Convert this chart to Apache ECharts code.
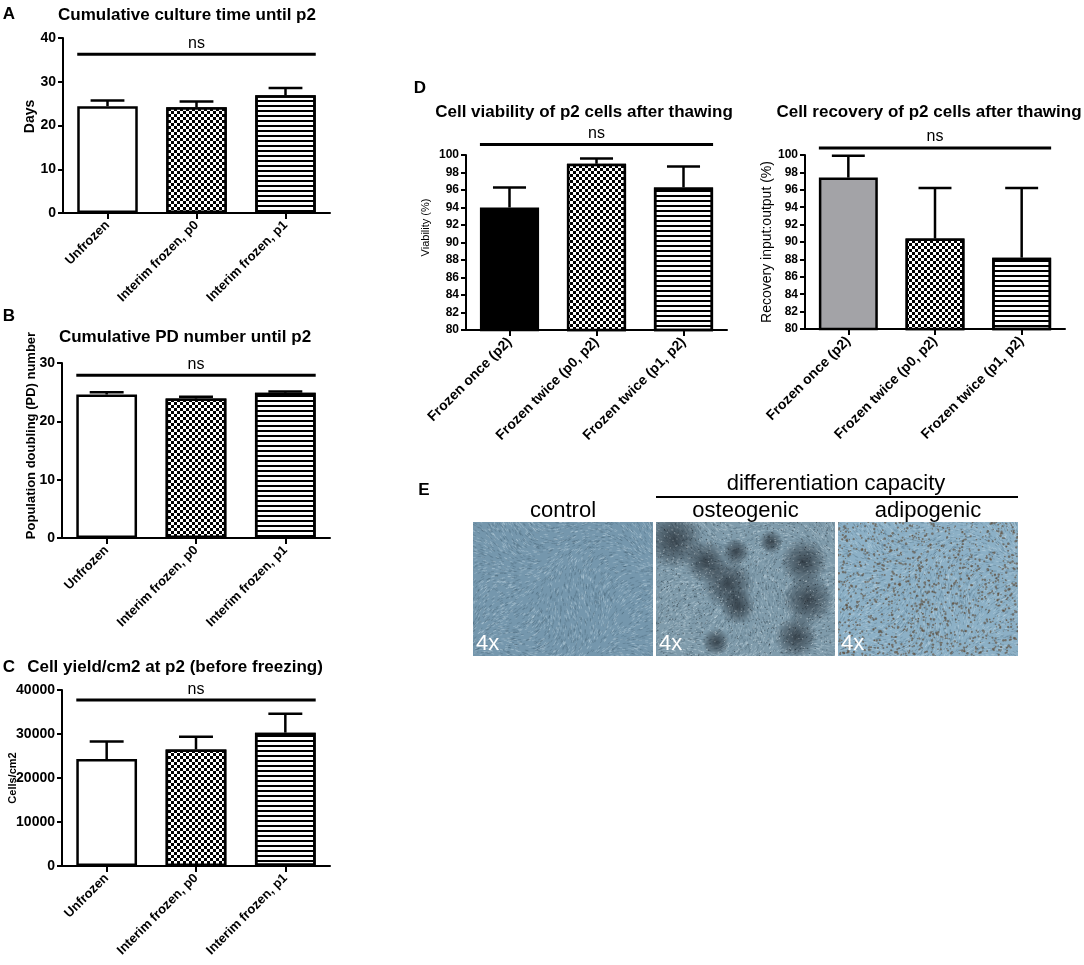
<!DOCTYPE html>
<html>
<head>
<meta charset="utf-8">
<title>Culture time, PD number, cell yield, viability and recovery</title>
<script src="https://cdn.jsdelivr.net/npm/echarts@6/dist/echarts.min.js"></script>
<style>
  html, body { margin: 0; padding: 0; background: #fff; }
  #chart { width: 1084px; height: 965px; }
</style>
</head>
<body>
<div id="chart"></div>
<script>
const FONT = '"Liberation Sans", Arial, Helvetica, sans-serif'

// categories
const catsInterim = ['Unfrozen', 'Interim frozen, p0', 'Interim frozen, p1']
const catsThaw = ['Frozen once (p2)', 'Frozen twice (p0, p2)', 'Frozen twice (p1, p2)']

// A: cumulative culture time until p2 (days), mean + SEM
const cultureDays = [24.4, 24.2, 26.9]
const cultureDaysSem = [1.3, 1.3, 1.7]
// B: cumulative PD number until p2
const pdNumber = [24.6, 23.9, 24.9]
const pdNumberSem = [0.4, 0.3, 0.2]
// C: cell yield / cm2 at p2
const cellYield = [24300, 26500, 30300]
const cellYieldSem = [4000, 2900, 4300]
// D: viability and recovery after thawing (%)
const viability = [94.0, 99.0, 96.3]
const viabilitySem = [2.3, 0.6, 2.4]
const recovery = [97.4, 90.4, 88.2]
const recoverySem = [2.5, 5.8, 8.0]

// height of the "ns" line in A, B, C, D viability, D recovery
const nsLevel = [36.3, 27.9, 37700, 101.2, 100.8]

// E: micrograph labels
const photoLabels = ['control', 'osteogenic', 'adipogenic']

// bar fills
const fillWhite = { color: '#fff' }
const fillBlack = { color: '#000' }
const fillGray = { color: '#a3a3a7' }
const fillChecker = {
  color: '#000',
  decal: { symbol: 'rect', symbolSize: 1, symbolKeepAspect: false, color: '#fff',
    dashArrayX: [[3, 3], [0, 3, 3, 0]], dashArrayY: [3, 0] }
}
const fillStripes = {
  color: '#fff',
  decal: { symbol: 'rect', symbolSize: 1, symbolKeepAspect: false, color: '#000',
    dashArrayX: [8, 0], dashArrayY: [1.5, 2.5] }
}

const panels = [
  { cats: catsInterim, mean: cultureDays, sem: cultureDaysSem, fills: [fillWhite, fillChecker, fillStripes],
    grid: { left: 63, top: 38, width: 267, height: 175 }, min: 0, max: 40, interval: 10,
    name: 'Days', nameSize: 14, nameWeight: 'bold', nameGap: 26, nameShift: 18, tickSize: 14, catSize: 13 },
  { cats: catsInterim, mean: pdNumber, sem: pdNumberSem, fills: [fillWhite, fillChecker, fillStripes],
    grid: { left: 62, top: 363, width: 268, height: 175 }, min: 0, max: 30, interval: 10,
    name: 'Population doubling (PD) number', nameSize: 13, nameWeight: 'bold', nameGap: 24, nameShift: 30, tickSize: 14, catSize: 13 },
  { cats: catsInterim, mean: cellYield, sem: cellYieldSem, fills: [fillWhite, fillChecker, fillStripes],
    grid: { left: 62, top: 690, width: 268, height: 176 }, min: 0, max: 40000, interval: 10000,
    name: 'Cells/cm2', nameSize: 11, nameWeight: 'bold', nameGap: 44, nameShift: 0, tickSize: 14, catSize: 13 },
  { cats: catsThaw, mean: viability, sem: viabilitySem, fills: [fillBlack, fillChecker, fillStripes],
    grid: { left: 466, top: 155, width: 261, height: 175 }, min: 80, max: 100, interval: 2,
    name: 'Viability (%)', nameSize: 11, nameWeight: 'normal', nameGap: 35, nameShift: 30, tickSize: 12, catSize: 14 },
  { cats: catsThaw, mean: recovery, sem: recoverySem, fills: [fillGray, fillChecker, fillStripes],
    grid: { left: 805, top: 155, width: 260, height: 174 }, min: 80, max: 100, interval: 2,
    name: 'Recovery input:output (%)', nameSize: 14, nameWeight: 'normal', nameGap: 31, nameShift: 0, tickSize: 12, catSize: 14 }
]

const txt = (size, weight) => ({ color: '#000', fontFamily: FONT, fontSize: size, fontWeight: weight })

const grids = [], xAxes = [], yAxes = [], series = []
panels.forEach((p, i) => {
  grids.push(Object.assign({ containLabel: false }, p.grid))
  xAxes.push({
    type: 'category', gridIndex: i, data: p.cats,
    axisLine: { show: true, lineStyle: { color: '#000', width: 2 } },
    axisTick: { show: true, alignWithLabel: true, length: 6, lineStyle: { color: '#000', width: 2 } },
    axisLabel: Object.assign(txt(p.catSize, 'bold'), { rotate: 45, interval: 0, margin: 10 }),
    splitLine: { show: false }
  })
  yAxes.push({
    type: 'value', gridIndex: i, min: p.min, max: p.max, interval: p.interval,
    name: p.name, nameLocation: 'middle', nameGap: p.nameGap, nameMoveOverlap: false,
    nameTextStyle: Object.assign(txt(p.nameSize, p.nameWeight), { padding: [0, 0, 0, p.nameShift] }),
    axisLine: { show: true, lineStyle: { color: '#000', width: 2 } },
    axisTick: { show: true, length: 5, lineStyle: { color: '#000', width: 2 } },
    axisLabel: Object.assign(txt(p.tickSize, 'bold'), { margin: 7, formatter: v => String(v) }),
    splitLine: { show: false }
  })
  series.push({
    type: 'bar', xAxisIndex: i, yAxisIndex: i, barWidth: '68%', silent: true,
    data: p.mean.map((v, k) => ({
      value: v,
      itemStyle: Object.assign({ borderColor: '#000', borderWidth: 2.5 }, p.fills[k])
    }))
  })
  // upper error bars
  series.push({
    type: 'custom', xAxisIndex: i, yAxisIndex: i, silent: true, z: 3,
    data: p.mean.map((m, k) => [k, m, p.sem[k]]),
    renderItem: (params, api) => {
      const base = api.coord([api.value(0), api.value(1)])
      const top = api.coord([api.value(0), api.value(1) + api.value(2)])
      const half = api.size([1, 0])[0] * 0.19
      const style = { stroke: '#000', lineWidth: 2.5 }
      return {
        type: 'group',
        children: [
          { type: 'line', shape: { x1: base[0], y1: base[1], x2: top[0], y2: top[1] }, style },
          { type: 'line', shape: { x1: top[0] - half, y1: top[1], x2: top[0] + half, y2: top[1] }, style }
        ]
      }
    }
  })
  // "ns" line over all three bars
  series.push({
    type: 'custom', xAxisIndex: i, yAxisIndex: i, silent: true, z: 3,
    data: [[1, nsLevel[i]]],
    renderItem: (params, api) => {
      const band = api.size([1, 0])[0]
      const y = api.coord([1, api.value(1)])[1]
      const x0 = api.coord([0, api.value(1)])[0] - band * 0.34
      const x1 = api.coord([2, api.value(1)])[0] + band * 0.34
      return {
        type: 'group',
        children: [
          { type: 'line', shape: { x1: x0, y1: y, x2: x1, y2: y }, style: { stroke: '#000', lineWidth: 3 } },
          { type: 'text', x: (x0 + x1) / 2, y: y - 3,
            style: { text: 'ns', font: '16px ' + FONT, fill: '#000',
              align: 'center', textAlign: 'center', verticalAlign: 'bottom', textVerticalAlign: 'bottom' } }
        ]
      }
    }
  })
})

// micrograph stand-ins for panel E
const hash = n => { const s = Math.sin(n * 127.1 + 311.7) * 43758.5453; return s - Math.floor(s) }
function photo(kind, w, h) {
  const c = document.createElement('canvas')
  c.width = w * 2; c.height = h * 2
  const g = c.getContext('2d')
  g.scale(2, 2)
  const base = { control: '#7597ad', osteogenic: '#7f9bab', adipogenic: '#8cb0c6' }[kind]
  g.fillStyle = base
  g.fillRect(0, 0, w, h)
  for (let i = 0; i < 3200; i++) {
    const x = hash(i) * w, y = hash(i + 7000) * h
    const a = 0.7 * Math.sin(x / 22) + 0.8 * Math.cos(y / 27) - 0.4
    const light = i % 2 === 0
    g.strokeStyle = light ? 'rgba(215,232,242,0.35)' : 'rgba(40,62,80,0.25)'
    g.lineWidth = 0.7
    g.beginPath()
    g.moveTo(x - 1.5 * Math.cos(a), y - 1.5 * Math.sin(a))
    g.lineTo(x + 1.5 * Math.cos(a), y + 1.5 * Math.sin(a))
    g.stroke()
  }
  if (kind === 'osteogenic') {
    const blobs = [[18, 18, 30], [50, 40, 22], [72, 62, 26], [82, 85, 18], [80, 30, 14],
      [148, 40, 24], [152, 78, 26], [140, 115, 22], [60, 120, 14], [115, 20, 12]]
    blobs.forEach(b => {
      const rg = g.createRadialGradient(b[0], b[1], 0, b[0], b[1], b[2])
      rg.addColorStop(0, 'rgba(18,22,28,0.65)')
      rg.addColorStop(0.6, 'rgba(18,22,28,0.3)')
      rg.addColorStop(1, 'rgba(18,22,28,0)')
      g.fillStyle = rg
      g.fillRect(b[0] - b[2], b[1] - b[2], b[2] * 2, b[2] * 2)
    })
    for (let i = 0; i < 1500; i++) {
      const x = hash(i + 50000) * w, y = hash(i + 60000) * h
      g.fillStyle = i % 2 ? 'rgba(15,20,25,0.45)' : 'rgba(225,235,240,0.45)'
      g.fillRect(x, y, 1, 1)
    }
  }
  if (kind === 'adipogenic') {
    for (let i = 0; i < 1300; i++) {
      const x = hash(i + 20000) * w, y = hash(i + 30000) * h
      g.fillStyle = 'rgba(92,72,52,0.6)'
      g.beginPath()
      g.arc(x, y, 0.5 + 0.8 * hash(i + 40000), 0, Math.PI * 2)
      g.fill()
    }
  }
  return c
}

const photoBoxes = [
  { x: 473, w: 180 }, { x: 656, w: 179 }, { x: 838, w: 180 }
]
const photoTop = 522, photoH = 134
const graphics = []
const label = (text, x, y, font, fill) => ({
  type: 'text', x, y, silent: true,
  style: { text, font, fill: fill || '#000', align: 'center', textAlign: 'center',
    verticalAlign: 'middle', textVerticalAlign: 'middle' }
})
const letter = (text, x, y) => label(text, x, y, 'bold 17px ' + FONT)

graphics.push(letter('A', 9, 14), letter('B', 9, 316), letter('C', 9, 667), letter('D', 420, 88), letter('E', 424, 490))
graphics.push(
  label('Cumulative culture time until p2', 187, 15, 'bold 17px ' + FONT),
  label('Cumulative PD number until p2', 185, 337, 'bold 17px ' + FONT),
  label('Cell yield/cm2 at p2 (before freezing)', 175, 667, 'bold 17px ' + FONT),
  label('Cell viability of p2 cells after thawing', 584, 112, 'bold 17px ' + FONT),
  label('Cell recovery of p2 cells after thawing', 929, 112, 'bold 17px ' + FONT)
)
photoLabels.forEach((name, k) => {
  const b = photoBoxes[k]
  graphics.push({
    type: 'image', silent: true,
    style: { image: photo(name, b.w, photoH), x: b.x, y: photoTop, width: b.w, height: photoH }
  })
  graphics.push(label(name, b.x + b.w / 2, 511, '22px ' + FONT))
  graphics.push({
    type: 'text', x: b.x + 3, y: photoTop + photoH - 1, silent: true,
    style: { text: '4x', font: '22px ' + FONT, fill: '#fff', align: 'left', textAlign: 'left',
      verticalAlign: 'bottom', textVerticalAlign: 'bottom' }
  })
})
graphics.push(label('differentiation capacity', 836, 484, '22px ' + FONT))
graphics.push({ type: 'line', silent: true, shape: { x1: 656, y1: 497, x2: 1018, y2: 497 }, style: { stroke: '#000', lineWidth: 2 } })

const chart = echarts.init(document.getElementById('chart'), null, { renderer: 'canvas' })
chart.setOption({
  backgroundColor: '#fff',
  animation: false,
  grid: grids,
  xAxis: xAxes,
  yAxis: yAxes,
  series: series,
  graphic: { elements: graphics }
})
</script>
</body>
</html>
